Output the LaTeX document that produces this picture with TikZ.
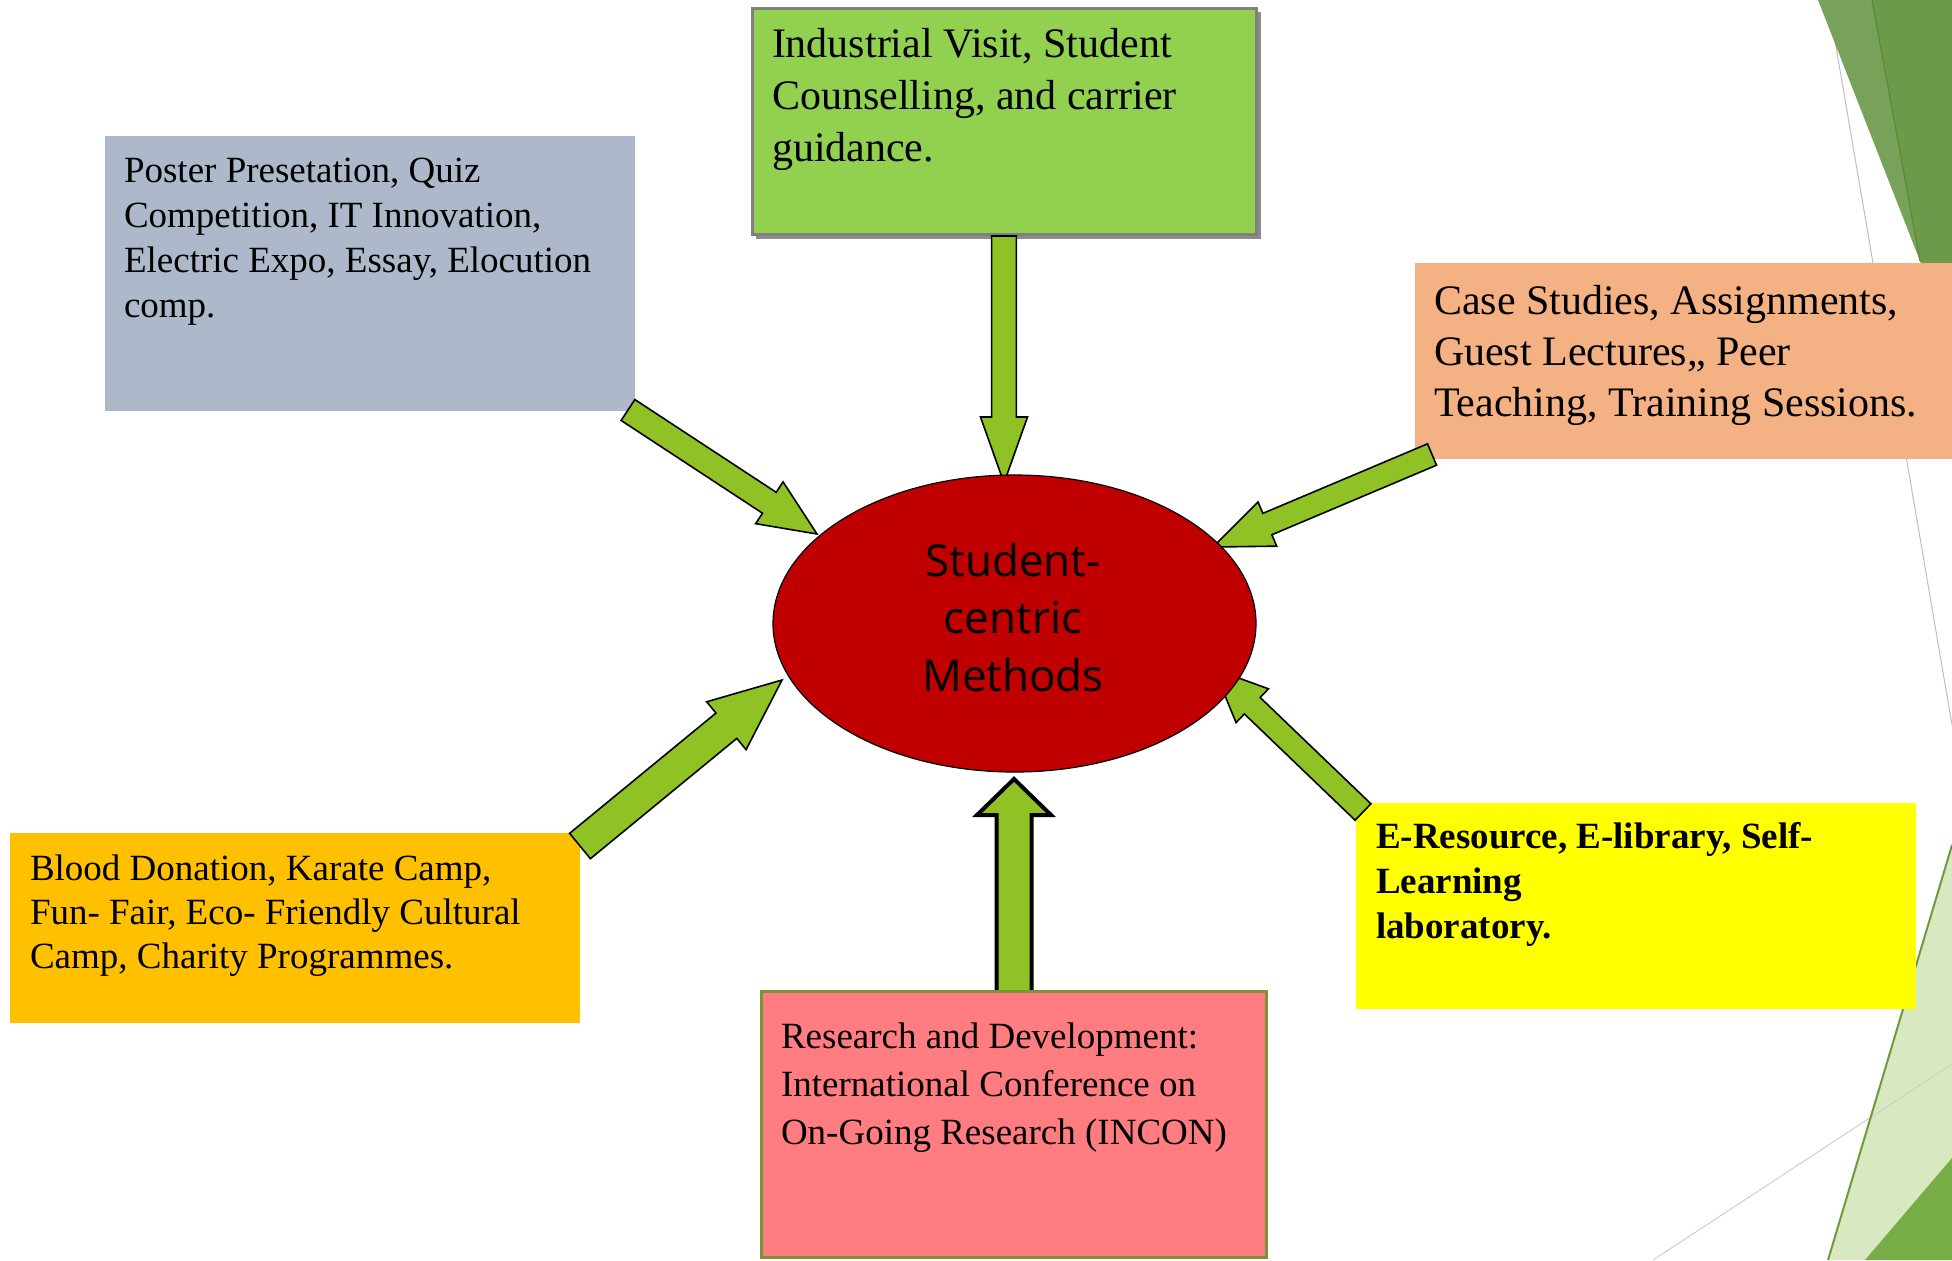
\documentclass[tikz,border=0pt]{standalone}
\usepackage{fontspec}
\setmainfont{Liberation Serif}
\newfontfamily\hubfont{Open Sans}
\usetikzlibrary{shapes.geometric,calc}
\definecolor{bluegray}{HTML}{ADB9CA}
\definecolor{topgreen}{HTML}{92D050}
\definecolor{peach}{HTML}{F4B183}
\definecolor{brightyellow}{HTML}{FFFF00}
\definecolor{gold}{HTML}{FFC000}
\definecolor{salmon}{HTML}{FF7C80}
\definecolor{hubred}{HTML}{C00000}
\definecolor{arrowgreen}{HTML}{90C226}
\definecolor{olive}{HTML}{77933C}
\definecolor{facetlight}{HTML}{78A15A}
\definecolor{facetdark}{HTML}{6C9A4A}
\definecolor{facetline}{HTML}{5E8A36}
\definecolor{facetpale}{HTML}{D8E8C0}
\definecolor{facetmid}{HTML}{76AD46}
\definecolor{facetedge}{HTML}{6E9B3A}
\tikzset{
  infobox/.style={rectangle, anchor=north west, inner sep=0pt, outer sep=0pt},
  boxtext/.style={anchor=base west, inner sep=0pt, outer sep=0pt, align=left},
  smalltext/.style={boxtext, font=\fontsize{18.5}{22.5}\selectfont},
  bigtext/.style={boxtext, font=\fontsize{21}{26}\selectfont},
  arrowbody/.style={fill=arrowgreen, draw=black, line width=0.8pt, line join=miter},
  thickarrowbody/.style={fill=arrowgreen, draw=black, line width=2pt, line join=miter, miter limit=10},
  thinline/.style={line width=0.5pt},
}
% #1 style, #2 tail coordinate, #3 tip coordinate, #4 shaft half width, #5 head half width, #6 head length
\newcommand{\drawfatarrow}[6]{%
  \coordinate (#3h) at ($(#3)!#6!(#2)$);
  \draw[#1] ($(#2)!#4!90:(#3)$) -- ($(#3h)!#4!90:(#3)$) -- ($(#3h)!#5!90:(#3)$) -- (#3)
    -- ($(#3h)!#5!-90:(#3)$) -- ($(#3h)!#4!-90:(#3)$) -- ($(#2)!#4!-90:(#3)$) -- cycle;
}
\begin{document}
\begin{tikzpicture}[x=0.5pt, y=-0.5pt]
\useasboundingbox (0,0) rectangle (1952,1260);
\fill[white] (0,0) rectangle (1952,1260);

% background facets
\draw[thinline, draw=black!25] (1828,0) -- (1952,725);
\fill[facetdark] (1872,0) -- (1952,0) -- (1952,343) -- (1920,261) -- cycle;
\fill[facetlight] (1818,0) -- (1872,0) -- (1920,261) -- cycle;
\draw[facetline, line width=0.6pt] (1872,0) -- (1920,261);
\fill[facetpale] (1952,845) -- (1828,1260) -- (1952,1260) -- cycle;
\draw[thinline, draw=black!19] (1653,1260) -- (1952,1064);
\draw[facetedge, line width=1pt] (1952,845) -- (1828,1260);
\fill[facetmid] (1952,1158) -- (1865,1260) -- (1952,1260) -- cycle;

% boxes
\node[infobox, fill=bluegray, minimum width=265pt, minimum height=137.5pt] (blue) at (105,136) {};
\fill[black!45] (756,12) rectangle (1261,239);
\node[infobox, fill=topgreen, draw=black!50, line width=1.5pt, minimum width=252pt, minimum height=113pt] (green) at (752,8) {};
\node[infobox, fill=peach, minimum width=268.5pt, minimum height=98pt] (peach) at (1415,263) {};
\node[infobox, fill=brightyellow, minimum width=280pt, minimum height=103pt] (yellow) at (1356,803) {};
\node[infobox, fill=gold, minimum width=285pt, minimum height=95pt] (gold) at (10,833) {};

% arrows
\coordinate (s1) at (628,410);  \coordinate (t1) at (817,534);
\coordinate (s2) at (1004,236); \coordinate (t2) at (1004,483);
\coordinate (s3) at (1432,454.5); \coordinate (t3) at (1213,547);
\coordinate (s4) at (1363,812); \coordinate (t4) at (1214,669);
\coordinate (s5) at (580,846);  \coordinate (t5) at (782,680);
\coordinate (s6) at (1014,992); \coordinate (t6) at (1014,779);
\drawfatarrow{arrowbody}{s1}{t1}{6.25pt}{12.5pt}{28.5pt}
\drawfatarrow{arrowbody}{s2}{t2}{6.2pt}{11.75pt}{33pt}
\drawfatarrow{arrowbody}{s3}{t3}{5.8pt}{12pt}{29.5pt}
\drawfatarrow{arrowbody}{s4}{t4}{5.7pt}{11.7pt}{26.5pt}
\drawfatarrow{arrowbody}{s5}{t5}{8.2pt}{15.5pt}{36pt}
\drawfatarrow{thickarrowbody}{s6}{t6}{8.75pt}{18.5pt}{18pt}

\node[infobox, fill=salmon, draw=olive, line width=1.5pt, minimum width=252.5pt, minimum height=133pt] (pink) at (761,991) {};

% texts (base anchor = baseline of the last line)
\node[smalltext] (bluetxt) at (124,317) {Poster Presetation, Quiz\\Competition, IT Innovation,\\Electric Expo, Essay, Elocution\\comp.};
\node[bigtext] (greentxt) at (772,161) {Industrial Visit, Student\\Counselling, and carrier\\guidance.};
\node[boxtext, font=\fontsize{21}{25.5}\selectfont] (peachtxt) at (1434,416) {Case Studies, Assignments,\\Guest Lectures,, Peer\\Teaching, Training Sessions.};
\node[smalltext, font=\fontsize{18.5}{22.5}\selectfont\bfseries] (yellowtxt) at (1376,938) {E-Resource, E-library, Self-\\Learning\\laboratory.};
\node[boxtext, font=\fontsize{18.5}{22}\selectfont] (goldtxt) at (30,968) {Blood Donation, Karate Camp,\\Fun- Fair, Eco- Friendly Cultural\\Camp, Charity Programmes.};
\node[boxtext, font=\fontsize{18.5}{24}\selectfont] (pinktxt) at (781,1144) {Research and Development:\\International Conference on\\On-Going Research (INCON)};

% hub
\node[ellipse, fill=hubred, draw=black, line width=0.6pt, minimum width=241.5pt, minimum height=148.5pt, inner sep=0pt] (hub) at (1014.5,623.5) {};
\node[font=\hubfont\fontsize{22}{28.75}\selectfont, align=center, inner sep=0pt] (hubtxt) at (1013,617) {Student-\\centric\\Methods};
\end{tikzpicture}
\end{document}
